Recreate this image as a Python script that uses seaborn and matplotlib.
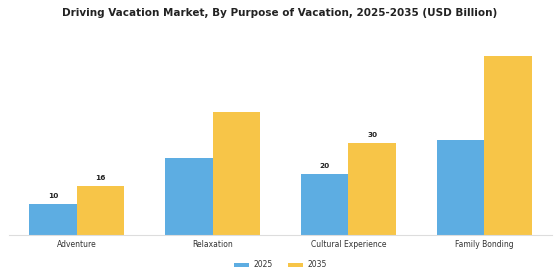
import matplotlib
matplotlib.use("Agg")
import matplotlib.pyplot as plt
import seaborn as sns
import pandas as pd

categories = ["Adventure", "Relaxation", "Cultural Experience", "Family Bonding"]
years = ["2025", "2035"]
values_2025 = [10, 25, 20, 31]
values_2035 = [16, 40, 30, 58.5]
labels_2025 = ["10", "", "20", ""]
labels_2035 = ["16", "", "30", ""]

df = pd.DataFrame({
    "Purpose": categories * 2,
    "Year": [years[0]] * 4 + [years[1]] * 4,
    "Value": values_2025 + values_2035,
})

sns.set_theme(style="white")
plt.rcParams["font.family"] = ["DejaVu Sans"]

fig = plt.figure(figsize=(5.6, 2.8), dpi=100)
ax = fig.add_axes([0.016, 0.161, 0.970, 0.70])
sns.barplot(data=df, x="Purpose", y="Value", hue="Year", order=categories,
            hue_order=years, palette=["#5DADE2", "#F7C548"], width=0.7,
            saturation=1, linewidth=0, ax=ax, legend=True)

for cont, labs in zip(ax.containers, [labels_2025, labels_2035]):
    ax.bar_label(cont, labels=labs, padding=3.5, fontsize=5.3, fontweight="bold", color="#222222")

ax.set_xlim(-0.5, 3.5)
ax.set_ylim(0, 64)
ax.set_xlabel("")
ax.set_ylabel("")
ax.set_yticks([])
ax.tick_params(axis="x", labelsize=5.5, colors="#333333", length=2, pad=2,
               width=0.6)
for s in ["top", "right", "left"]:
    ax.spines[s].set_visible(False)
ax.spines["bottom"].set_color("#dddddd")
ax.spines["bottom"].set_linewidth(0.8)

ax.legend(loc="center", bbox_to_anchor=(0.5, -0.153), ncol=2, frameon=False,
          fontsize=5.5, handlelength=2.0, handleheight=0.5, columnspacing=2.0,
          handletextpad=0.6, labelcolor="#333333")

fig.suptitle("Driving Vacation Market, By Purpose of Vacation, 2025-2035 (USD Billion)",
             fontsize=7.5, fontweight="bold", y=0.97, color="#222222")

fig.savefig("out.png", dpi=100)
